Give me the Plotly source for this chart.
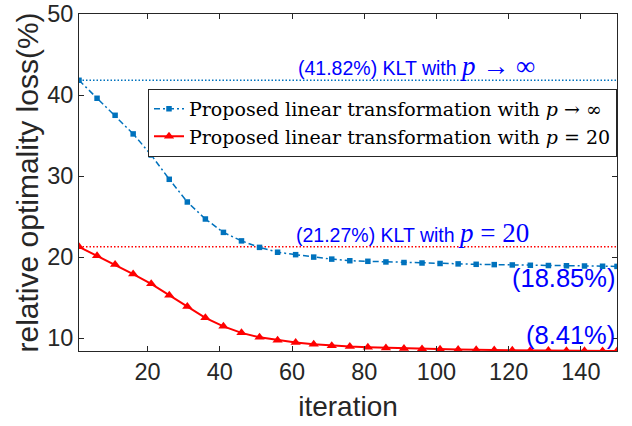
import plotly.graph_objects as go

# ---------------- data ----------------
iterations = [1, 6, 11, 16, 21, 26, 31, 36, 41, 46, 51, 56, 61, 66, 71, 76,
              81, 86, 91, 96, 101, 106, 111, 116, 121, 126, 131, 136, 141, 146, 150]
loss_p_inf = [41.82, 39.6, 37.5, 35.2, 32.6, 29.6, 26.8, 24.7, 23.05, 22.0, 21.2,
              20.6, 20.3, 20.0, 19.75, 19.55, 19.48, 19.4, 19.33, 19.27, 19.21,
              19.16, 19.11, 19.07, 19.03, 18.99, 18.96, 18.93, 18.9, 18.87, 18.85]
loss_p_20 = [21.27, 20.15, 19.1, 17.9, 16.7, 15.3, 13.9, 12.5, 11.45, 10.65, 10.1,
             9.75, 9.45, 9.25, 9.07, 8.95, 8.86, 8.79, 8.73, 8.67, 8.62, 8.58,
             8.55, 8.52, 8.5, 8.48, 8.46, 8.45, 8.43, 8.42, 8.41]
klt_p_inf = 41.82
klt_p_20 = 21.27
x_span = [1, 150]
y_span = [8.41, 50]
x_ticks = [20, 40, 60, 80, 100, 120, 140]
y_ticks = [10, 20, 30, 40, 50]

BLUE = "#0072BD"
RED = "#FF0000"
TXT_BLUE = "#0000FF"
AX = "#262626"
MATH = "font-family:Liberation Serif;font-size:27px"

fig = go.Figure()
fig.add_trace(go.Scatter(x=x_span, y=[klt_p_inf, klt_p_inf], mode="lines",
                         line=dict(color=BLUE, dash="1.5px,2px", width=1.5),
                         showlegend=False, hoverinfo="skip"))
fig.add_trace(go.Scatter(x=x_span, y=[klt_p_20, klt_p_20], mode="lines",
                         line=dict(color=RED, dash="1.5px,2px", width=1.5),
                         showlegend=False, hoverinfo="skip"))
fig.add_trace(go.Scatter(x=iterations, y=loss_p_inf, mode="lines+markers",
                         name="Proposed linear transformation with <i>p</i> → ∞",
                         line=dict(color=BLUE, dash="6px,3px,2px,3px", width=1.5),
                         marker=dict(symbol="square", size=5.5, color=BLUE)))
fig.add_trace(go.Scatter(x=iterations, y=loss_p_20, mode="lines+markers",
                         name="Proposed linear transformation with <i>p</i> = 20",
                         line=dict(color=RED, width=2),
                         marker=dict(symbol="triangle-up", size=9, color=RED)))

axis_common = dict(showline=True, linecolor=AX, linewidth=1, mirror="ticks",
                   ticks="inside", ticklen=5, tickcolor=AX, showgrid=False,
                   zeroline=False, automargin=False,
                   tickfont=dict(family="Liberation Sans", size=23.5, color=AX))

fig.update_layout(
    width=632, height=426,
    margin=dict(l=79, r=15, t=14, b=75),
    paper_bgcolor="white", plot_bgcolor="white",
    xaxis=dict(range=x_span, tickvals=x_ticks,
               title=dict(text="iteration", standoff=12,
                          font=dict(family="Liberation Sans", size=28, color=AX)),
               **axis_common),
    yaxis=dict(range=y_span, tickvals=y_ticks, **axis_common),
    legend=dict(x=1, xanchor="right", y=0.778, yanchor="top",
                bgcolor="white", bordercolor=AX, borderwidth=1,
                font=dict(family="DejaVu Serif", size=19, color="black"),
                tracegroupgap=0, itemwidth=30),
    annotations=[
        dict(x=0, y=0.5, xref="paper", yref="paper", showarrow=False,
             xanchor="center", yanchor="middle", xshift=-52, textangle=-90,
             text="relative optimality loss(%)",
             font=dict(family="Liberation Sans", size=30, color=AX)),
        dict(x=94.5, y=klt_p_inf, xref="x", yref="y", showarrow=False,
             xanchor="center", yanchor="bottom", yshift=-3,
             text=f"(41.82%) KLT with <span style='{MATH}'><i>p</i> → ∞</span>",
             font=dict(family="Liberation Sans", size=19.5, color=TXT_BLUE)),
        dict(x=93.3, y=klt_p_20, xref="x", yref="y", showarrow=False,
             xanchor="center", yanchor="bottom", yshift=-3,
             text=f"(21.27%) KLT with <span style='{MATH}'><i>p</i> = 20</span>",
             font=dict(family="Liberation Sans", size=19.5, color=TXT_BLUE)),
        dict(x=150, y=loss_p_inf[-1], xref="x", yref="y", showarrow=False,
             xanchor="right", yanchor="top", yshift=4,
             text="(18.85%)",
             font=dict(family="Liberation Sans", size=25.5, color=TXT_BLUE)),
        dict(x=150, y=loss_p_20[-1], xref="x", yref="y", showarrow=False,
             xanchor="right", yanchor="bottom", yshift=0,
             text="(8.41%)",
             font=dict(family="Liberation Sans", size=25.5, color=TXT_BLUE)),
    ],
)

fig.write_html("out.html", config={"displayModeBar": False},
               post_script="document.body.style.margin='0';")
